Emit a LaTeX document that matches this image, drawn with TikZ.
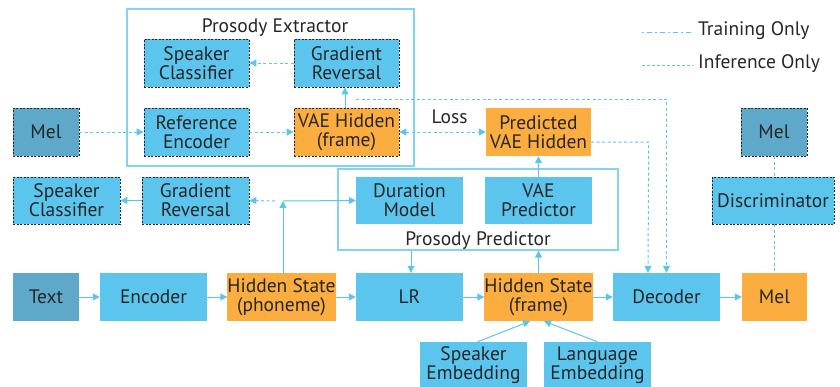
\documentclass[tikz,border=0pt]{standalone}
\usepackage{fontspec}
\setmainfont{PT Sans}
\usetikzlibrary{arrows.meta,calc}

\definecolor{boxblue}{HTML}{5BC5EE}
\definecolor{boxorange}{HTML}{FBAE3F}
\definecolor{boxteal}{HTML}{5EA9C9}
\definecolor{linkblue}{HTML}{5BC5EE}
\definecolor{framblue}{HTML}{84D2F1}
\definecolor{inktext}{HTML}{262626}

\tikzset{
  base/.style={rectangle, inner sep=0pt, align=center, text=inktext,
    font=\fontsize{19.5}{19}\selectfont},
  blk/.style={base, fill=boxblue},
  org/.style={base, fill=boxorange},
  teal/.style={base, fill=boxteal},
  dashborder/.style={draw=inktext, line width=0.8pt, dash pattern=on 2pt off 1.5pt},
  wh/.style 2 args={minimum width=#1, minimum height=#2},
  frame/.style={draw=framblue, line width=1.3pt, fill=none, inner sep=0pt},
  label/.style={text=inktext, font=\fontsize{19.5}{19}\selectfont, inner sep=0pt},
  link/.style={draw=linkblue, line width=1pt, -{Triangle[length=7pt,width=7pt]}},
  trainline/.style={draw=linkblue, line width=1pt, dash pattern=on 3pt off 2.5pt},
  infline/.style={draw=linkblue, line width=1pt, dash pattern=on 3pt off 2.5pt},
  legtrain/.style={draw=linkblue, line width=1pt, dash pattern=on 2pt off 3pt on 5pt off 3pt},
  leginf/.style={draw=linkblue, line width=1pt, dash pattern=on 3pt off 2pt},
  tip/.style={-{Triangle[length=7pt,width=7pt]}},
  tips/.style={{Triangle[length=7pt,width=7pt]}-{Triangle[length=7pt,width=7pt]}},
}

\begin{document}
\begin{tikzpicture}[x=1pt, y=-1pt]
\useasboundingbox (0,0) rectangle (840,386);

% ---- group frames ----
\node[frame, minimum width=287, minimum height=157] (peBox) at (270.5,87.5) {};
\node[label, anchor=base] (peTitle) at (275,32) {Prosody Extractor};
\node[frame, minimum width=280, minimum height=81] (ppBox) at (478,209.5) {};
\node[label, anchor=base] (ppTitle) at (478,245) {Prosody Predictor};

% ---- prosody extractor ----
\node[blk, dashborder, wh={105}{48}] (spk1) at (196.5,63) {Speaker\\Classifier};
\node[blk, dashborder, wh={105}{48}] (gr1) at (346.5,63) {Gradient\\Reversal};
\node[blk, dashborder, wh={105}{48}] (ref) at (196.5,132) {Reference\\Encoder};
\node[org, dashborder, wh={105}{48}] (vaeh) at (346.5,132) {VAE Hidden\\(frame)};

% ---- reference mel and predicted hidden ----
\node[teal, dashborder, wh={66}{48}] (melL) at (46,132) {Mel};
\node[org, wh={105}{48}] (pvae) at (538.5,132) {Predicted\\VAE Hidden};
\node[teal, dashborder, wh={66}{48}] (melR) at (774,132) {Mel};

% ---- middle row ----
\node[blk, dashborder, wh={107}{47}] (spk2) at (66.5,200.5) {Speaker\\Classifier};
\node[blk, dashborder, wh={107}{47}] (gr2) at (195.5,200.5) {Gradient\\Reversal};
\node[blk, wh={107}{47}] (dur) at (409.5,200.5) {Duration\\Model};
\node[blk, wh={107}{47}] (vaep) at (538.5,200.5) {VAE\\Predictor};
\node[blk, dashborder, wh={122}{47}] (disc) at (773,200.5) {Discriminator};

% ---- main row ----
\node[teal, wh={66}{48}] (text) at (46,297) {Text};
\node[blk, wh={107}{48}] (enc) at (153.5,297) {Encoder};
\node[org, wh={105}{48}] (hsp) at (281.5,297) {Hidden State\\(phoneme)};
\node[blk, wh={107}{48}] (lr) at (409.5,297) {LR};
\node[org, wh={105}{48}] (hsf) at (538.5,297) {Hidden State\\(frame)};
\node[blk, wh={107}{48}] (dec) at (666.5,297) {Decoder};
\node[org, wh={65}{48}] (melB) at (774.5,297) {Mel};

% ---- embeddings ----
\node[blk, wh={107}{46}] (spkE) at (473.5,365) {Speaker\\Embedding};
\node[blk, wh={107}{46}] (langE) at (597.5,365) {Language\\Embedding};

% ---- legend ----
\coordinate (lgA1) at (642,32);
\coordinate (lgA2) at (693,32);
\coordinate (lgB1) at (642,65);
\coordinate (lgB2) at (693,65);
\draw[legtrain] (lgA1) -- (lgA2);
\draw[leginf] (lgB1) -- (lgB2);
\node[label, anchor=base west] (legT) at (698,35) {Training Only};
\node[label, anchor=base west] (legI) at (698,68) {Inference Only};

% ---- main row flow ----
\draw[link] (text) -- (enc);
\draw[link] (enc) -- (hsp);
\draw[link] (hsp) -- (lr);
\draw[link] (lr) -- (hsf);
\draw[link] (hsf) -- (dec);
\draw[link] (dec) -- (melB);

% ---- embeddings into the frame hidden state ----
\draw[link] ($(spkE.north)+(4,0)$) -- ($(hsf.south)+(-8.5,0)$);
\draw[link] (langE.north) -- ($(hsf.south)+(5.5,0)$);

% ---- phoneme hidden state branches ----
\coordinate (jn) at (283,201);
\draw[link] (hsp.north -| jn) -- (jn);
\draw[link] (jn) -- (dur.west);
\draw[trainline, tip] ($(jn)+(-8,0)$) -- (gr2.east);
\draw[link] (gr2) -- (spk2);

% ---- prosody predictor ----
\draw[link] (ppBox.south -| 411,0) -- (lr.north -| 411,0);
\draw[link] (hsf.north) -- (hsf.north |- ppBox.south);
\draw[link] (vaep.north) -- (pvae.south);

% ---- prosody extractor ----
\draw[trainline, tip] (melL) -- (ref);
\draw[trainline, tip] (ref) -- (vaeh);
\draw[link] (vaeh.north -| 345,0) -- (gr1.south -| 345,0);
\draw[trainline, tip] (gr1) -- (spk1);
\draw[trainline, tips] (vaeh) -- node[label, above=8pt, xshift=7pt] (loss) {Loss} (pvae);

% ---- hidden representations into the decoder ----
\coordinate (tap) at (356,99);
\draw[infline, tip] (tap) -- (tap -| dec.north) -- (dec.north);
\draw[trainline, tip] ($(pvae.east)+(0,10)$) -- ($(pvae.east)+(57.5,10)$) -- ($(dec.north)+(-18.5,0)$);

% ---- discriminator ----
\draw[infline] (melR.south) -- (melR.south |- disc.north);
\draw[infline] (disc.south -| melB.north) -- (melB.north);
\end{tikzpicture}
\end{document}
